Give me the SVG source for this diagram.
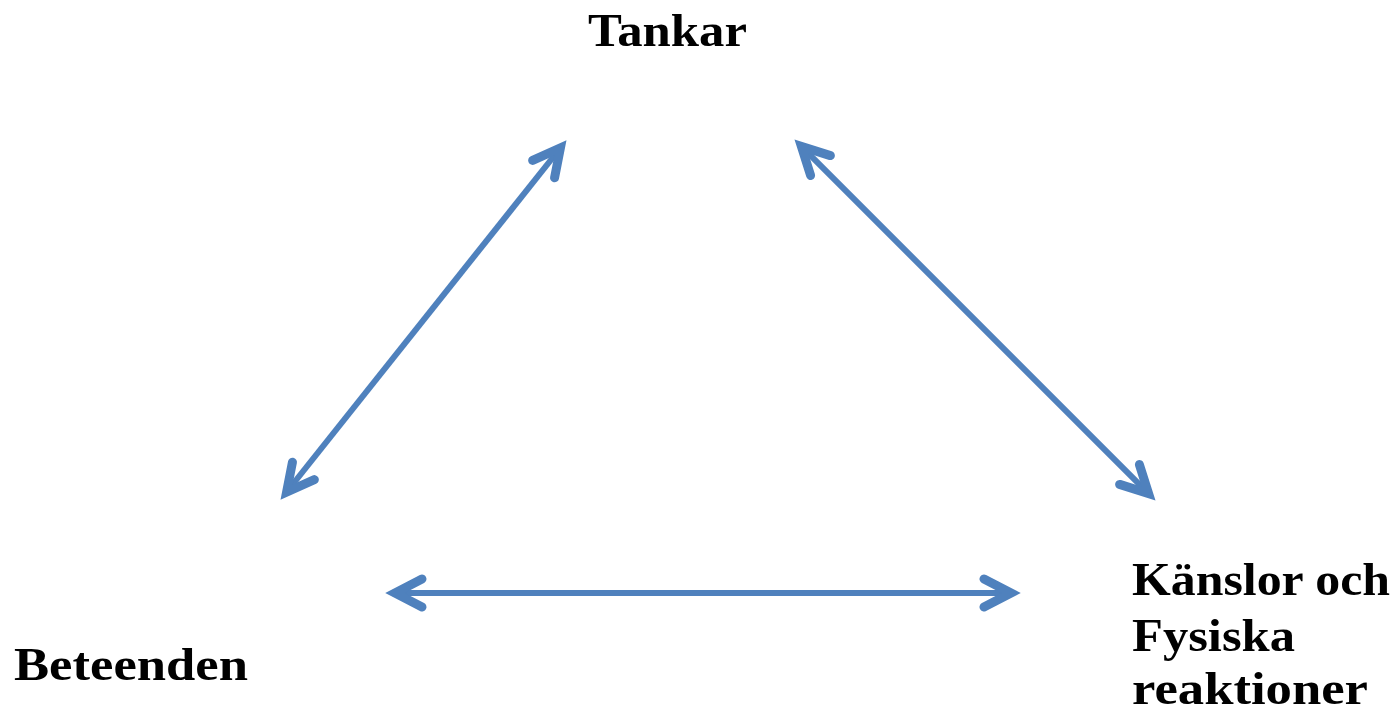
<svg xmlns="http://www.w3.org/2000/svg" width="1398" height="711" viewBox="0 0 1398 711">
<style>
.lbl{font-family:"Liberation Serif","DejaVu Serif",serif;font-weight:bold;font-size:47px;fill:#000}
.con{stroke:#4f81bd;stroke-width:6;fill:none;marker-start:url(#ah);marker-end:url(#ah)}
</style>
<defs>
<marker id="ah" markerUnits="userSpaceOnUse" viewBox="-40 -25 60 50" markerWidth="60" markerHeight="50" refX="0" refY="0" orient="auto-start-reverse" overflow="visible">
<path d="M -27,-14 L 0,0 L -27,14" fill="none" stroke="#4f81bd" stroke-width="9" stroke-linecap="round" stroke-linejoin="miter" stroke-miterlimit="10"/>
</marker>
</defs>
<rect width="1398" height="711" fill="#fff"/>
<g id="connectors">
<line class="con" x1="286.6" y1="492" x2="560.4" y2="148"/>
<line class="con" x1="801.4" y1="146.4" x2="1148.6" y2="493.6"/>
<line class="con" x1="395" y1="593" x2="1011" y2="593"/>
</g>
<g id="tankar"><text class="lbl" x="588" y="46" textLength="159" lengthAdjust="spacingAndGlyphs">Tankar</text></g>
<g id="beteenden"><text class="lbl" x="14" y="680" textLength="234" lengthAdjust="spacingAndGlyphs">Beteenden</text></g>
<g id="kanslor">
<text class="lbl" x="1132" y="595" textLength="258" lengthAdjust="spacingAndGlyphs">Känslor och</text>
<text class="lbl" x="1132" y="651" textLength="163" lengthAdjust="spacingAndGlyphs">Fysiska</text>
<text class="lbl" x="1132" y="704" textLength="236" lengthAdjust="spacingAndGlyphs">reaktioner</text>
</g>
</svg>
